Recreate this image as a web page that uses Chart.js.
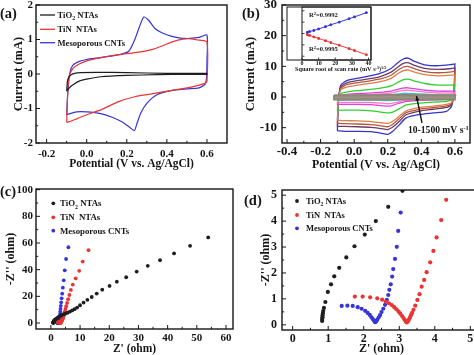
<!DOCTYPE html>
<html><head><meta charset="utf-8">
<script src="https://cdn.jsdelivr.net/npm/chart.js@4.4.1/dist/chart.umd.min.js"></script>
<style>
html,body{margin:0;padding:0;background:#fff;}
#wrap{position:relative;width:474px;height:355px;overflow:hidden;background:#fff;}
canvas{position:absolute;}
</style></head><body><div id="wrap">
<canvas id="ca"></canvas><canvas id="cb"></canvas><canvas id="cbi"></canvas><canvas id="cc"></canvas><canvas id="cd"></canvas>
</div>
<script>
// ================= DATA =================
// (a) cyclic voltammograms: potential (V) / current (mA), loop order
const aTiO2V = [-0.100,-0.095,-0.080,-0.060,-0.030,0.050,0.200,0.400,0.600,0.600,0.500,0.350,0.200,0.070,0.000,-0.035,-0.070,-0.090,-0.100];
const aTiO2I = [-0.50,-0.17,-0.03,0.02,0.04,0.05,0.04,0.02,0.02,-0.01,-0.01,-0.02,-0.04,-0.08,-0.15,-0.20,-0.32,-0.42,-0.50];
const aTiNV = [-0.100,-0.090,-0.070,-0.040,0.000,0.080,0.160,0.240,0.320,0.380,0.430,0.480,0.520,0.560,0.600,0.600,0.590,0.520,0.420,0.310,0.240,0.160,0.070,0.000,-0.050,-0.080,-0.100];
const aTiNI = [-1.40,-0.10,0.15,0.28,0.38,0.48,0.56,0.62,0.70,0.82,0.94,1.01,1.02,0.98,0.93,-0.22,-0.27,-0.38,-0.48,-0.59,-0.66,-0.80,-1.04,-1.18,-1.30,-1.37,-1.40];
const aCntV = [-0.100,-0.095,-0.085,-0.070,-0.040,0.000,0.060,0.120,0.170,0.210,0.240,0.260,0.285,0.310,0.340,0.380,0.420,0.490,0.560,0.600,0.600,0.598,0.590,0.560,0.500,0.420,0.350,0.300,0.270,0.250,0.238,0.215,0.180,0.130,0.070,0.000,-0.050,-0.100];
const aCntI = [-1.18,-0.60,0.00,0.25,0.36,0.42,0.47,0.52,0.57,0.66,1.00,1.32,1.65,1.55,1.32,1.18,1.10,1.03,1.06,1.13,0.40,-0.10,-0.30,-0.40,-0.43,-0.48,-0.60,-0.85,-1.13,-1.45,-1.64,-1.55,-1.40,-1.26,-1.15,-1.10,-1.10,-1.18];
const aTicksX = [-0.2,0.0,0.2,0.4,0.6];
const aTicksY = [-2,-1,0,1,2];

// (b) CVs of mesoporous CNTs at 10-1500 mV/s: anodic (up) and cathodic (down) sweeps
const bPotUp = [-0.10,-0.095,-0.08,-0.04,0.05,0.15,0.22,0.26,0.29,0.32,0.36,0.42,0.50,0.58,0.60];
const bPotDn = [0.60,0.595,0.58,0.55,0.47,0.39,0.31,0.27,0.23,0.20,0.16,0.10,0.02,-0.06,-0.10];
const cv1500Up = [-11.0,-2.0,3.8,5.4,6.4,7.6,9.3,11.2,12.3,12.7,11.6,10.5,10.2,10.6,10.8];
const cv1500Dn = [10.8,2.0,-3.0,-4.7,-5.2,-5.7,-6.8,-9.0,-11.2,-12.2,-11.8,-11.3,-11.2,-11.2,-11.0];
const cv1000Up = [-9.6,-1.8,3.2,4.7,5.6,6.6,8.1,9.8,10.9,11.2,10.3,9.3,9.0,9.3,9.5];
const cv1000Dn = [9.5,1.6,-2.4,-3.4,-4.0,-4.6,-5.8,-7.9,-9.8,-10.6,-10.3,-9.9,-9.7,-9.6,-9.6];
const cv800Up = [-8.6,-1.6,2.8,4.1,4.9,5.8,7.1,8.7,9.7,10.0,9.2,8.3,7.9,8.2,8.4];
const cv800Dn = [8.4,1.3,-2.1,-2.9,-3.5,-4.0,-5.1,-7.0,-8.9,-9.7,-9.4,-9.0,-8.8,-8.7,-8.6];
const cv500Up = [-7.6,-1.4,2.3,3.3,4.1,4.9,6.1,7.6,8.5,8.8,8.1,7.3,6.9,7.1,7.3];
const cv500Dn = [7.3,1.0,-1.8,-2.4,-3.0,-3.5,-4.5,-6.2,-7.9,-8.6,-8.4,-8.0,-7.8,-7.7,-7.6];
const cv300Up = [-4.4,-0.8,1.1,1.7,2.2,2.8,3.6,4.8,5.6,5.8,5.2,4.4,3.9,3.9,4.0];
const cv300Dn = [4.0,0.5,-1.0,-1.4,-1.7,-2.0,-2.6,-3.8,-4.9,-5.2,-4.9,-4.5,-4.3,-4.3,-4.4];
const cv100Up = [-2.4,-0.4,0.6,0.9,1.2,1.5,1.9,2.5,2.9,3.0,2.7,2.2,1.9,1.9,2.0];
const cv100Dn = [2.0,0.3,-0.6,-0.8,-0.9,-1.1,-1.4,-2.0,-2.7,-3.0,-2.8,-2.5,-2.4,-2.4,-2.4];
const cv50Up = [-1.8,-0.3,0.4,0.6,0.8,1.0,1.3,1.8,2.1,2.2,2.0,1.6,1.3,1.3,1.4];
const cv50Dn = [1.4,0.2,-0.4,-0.6,-0.7,-0.8,-1.0,-1.5,-2.0,-2.2,-2.0,-1.8,-1.8,-1.8,-1.8];
const cv20Up = [-1.1,-0.2,0.2,0.3,0.4,0.5,0.7,1.0,1.2,1.2,1.1,0.9,0.7,0.7,0.8];
const cv20Dn = [0.8,0.1,-0.2,-0.3,-0.4,-0.5,-0.6,-0.9,-1.1,-1.2,-1.1,-1.0,-1.0,-1.0,-1.1];
const cv10Up = [-0.7,-0.1,0.1,0.2,0.25,0.3,0.4,0.55,0.65,0.65,0.6,0.5,0.4,0.4,0.5];
const cv10Dn = [0.5,0.05,-0.1,-0.2,-0.25,-0.3,-0.4,-0.55,-0.7,-0.75,-0.7,-0.65,-0.65,-0.65,-0.7];
const cv5Up = [-0.4,-0.05,0.05,0.1,0.12,0.15,0.2,0.3,0.35,0.35,0.3,0.25,0.2,0.2,0.25];
const cv5Dn = [0.25,0.0,-0.05,-0.1,-0.12,-0.15,-0.2,-0.3,-0.38,-0.4,-0.38,-0.35,-0.35,-0.35,-0.4];
const bandV = [-0.12,0.0,0.2,0.4,0.6,0.6,0.4,0.2,0.0,-0.12,-0.12];
const bandI = [0.55,0.6,0.65,0.6,0.55,-0.8,-0.8,-0.85,-0.8,-0.8,0.55];
const bTicksX = [-0.4,-0.2,0.0,0.2,0.4,0.6];
const bTicksY = [-10,0,10,20,30];
// (b) inset: peak current vs sqrt(scan rate)
const insetX = [3.2,4.5,7.1,10.0,14.1,17.3,22.4,28.3,31.6,38.7];
const insetAnodic = [0.3,0.5,0.8,1.2,1.8,2.3,3.0,3.9,4.4,5.5];
const insetCathodic = [-0.3,-0.5,-0.9,-1.3,-1.9,-2.4,-3.1,-4.0,-4.5,-5.6];
const insetTicksX = [0,10,20,30,40];
const insetTicksY = [-6,-3,0,3,6];

// (c)/(d) Nyquist plots: Z' and -Z'' (ohm)
const tio2Re = [0.83,0.83,0.84,0.84,0.85,0.86,0.88,0.92,0.99,1.08,1.17,1.31,1.51,1.74,2.03,2.34,2.69,3.09,3.6,4.2,4.9,5.7,6.5,7.3,8.1,9.0,10.0,11.2,12.5,14.0,15.7,17.6,20.1,22.6,25.8,29.4,33.2,37.4,42.2,47.7,53.9];
const tio2Im = [0.15,0.22,0.29,0.36,0.44,0.53,0.65,0.88,1.27,1.56,1.87,2.20,2.60,3.03,3.48,4.00,4.55,5.17,5.8,6.4,7.0,7.7,8.5,9.4,10.4,11.6,13.3,15.3,17.4,19.5,22.1,25.0,27.8,31.0,34.3,38.6,42.9,47.1,52.2,57.9,64.2];
const tinRe = [1.75,1.97,2.18,2.38,2.52,2.62,2.71,2.79,2.86,2.92,2.98,3.03,3.08,3.12,3.16,3.19,3.21,3.24,3.27,3.30,3.33,3.36,3.40,3.45,3.51,3.57,3.63,3.70,3.77,3.87,3.96,4.05,4.18,4.32,4.45,4.6,4.8,5.0,5.25,5.55,5.9,6.35,6.85,7.5,8.5,9.7,10.9,12.9];
const tinIm = [1.09,1.09,1.06,1.02,0.97,0.90,0.83,0.76,0.68,0.60,0.51,0.43,0.34,0.26,0.18,0.12,0.09,0.13,0.20,0.28,0.37,0.46,0.58,0.74,0.96,1.18,1.47,1.73,2.03,2.41,2.85,3.37,4.04,4.82,5.9,7.2,8.7,10.5,12.6,15.0,17.8,21.0,24.8,28.8,33.5,39.1,46.1,54.6];
const cntRe = [1.38,1.54,1.69,1.83,1.94,2.04,2.11,2.17,2.22,2.26,2.30,2.32,2.35,2.38,2.42,2.46,2.50,2.55,2.60,2.65,2.69,2.72,2.76,2.80,2.83,2.88,2.93,2.97,3.04,3.10,3.16,3.22,3.30,3.40,3.52,3.68,3.88,4.10,4.40,4.75,5.20,6.00];
const cntIm = [0.73,0.74,0.73,0.68,0.62,0.54,0.46,0.38,0.29,0.21,0.14,0.10,0.13,0.20,0.28,0.37,0.49,0.62,0.77,0.96,1.15,1.35,1.56,1.86,2.15,2.54,3.01,3.62,4.33,5.4,6.9,8.6,10.6,12.9,15.5,18.5,22.0,26.5,32.0,39.5,48.0,56.8];
const cTicksX = [0,10,20,30,40,50,60];
const cTicksY = [0,20,40,60,80,100];
const dTicksX = [0,1,2,3,4,5];
const dTicksY = [0,1,2,3,4,5];

// ================= RENDERING =================
const FONT = "'Liberation Serif','Times New Roman',serif";
const INK = '#161616';
const BLUE = '#3636d8', RED = '#ea3434', BLACK = '#1e1e1e';
const pts = (xs, ys) => xs.map((v, i) => ({x: v, y: ys[i]}));
const cvLoop = (up, dn) => pts(bPotUp.concat(bPotDn), up.concat(dn));

function rich(ctx, x, cy, parts, size, align, color) {
  ctx.save();
  ctx.fillStyle = color || INK; ctx.textBaseline = 'alphabetic';
  const f = s => 'bold ' + s + 'px ' + FONT;
  let w = 0;
  const items = parts.map(p => {
    const t = typeof p === 'string' ? p : p[0];
    const m = typeof p === 'string' ? '' : p[1];
    const s = m ? size * 0.68 : size;
    ctx.font = f(s);
    const tw = ctx.measureText(t).width; w += tw;
    return {t, m, s, tw};
  });
  let px = align === 'center' ? x - w / 2 : align === 'right' ? x - w : x;
  const base = cy + size * 0.33;
  items.forEach(it => {
    ctx.font = f(it.s);
    const dy = it.m === 'sub' ? size * 0.28 : it.m === 'sup' ? -size * 0.38 : 0;
    ctx.fillText(it.t, px, base + dy);
    px += it.tw;
  });
  ctx.restore();
}

function decoPlugin(P) {
  return {
    id: 'deco' + P.id,
    beforeDatasetsDraw(chart) { if (P.before) P.before(chart.ctx, chart); },
    afterDatasetsDraw(chart) {
      const ctx = chart.ctx, a = chart.chartArea, sx = chart.scales.x, sy = chart.scales.y;
      ctx.save();
      ctx.strokeStyle = INK; ctx.lineWidth = P.frameW || 1.4;
      ctx.strokeRect(a.left, a.top, a.right - a.left, a.bottom - a.top);
      ctx.lineWidth = P.tickW || 1;
      const tl = P.tickLen || 4, ml = tl * 0.55;
      ctx.beginPath();
      P.xTicks.forEach(v => { const p = sx.getPixelForValue(v); ctx.moveTo(p, a.bottom); ctx.lineTo(p, a.bottom - tl); });
      (P.xMinor || []).forEach(v => { const p = sx.getPixelForValue(v); ctx.moveTo(p, a.bottom); ctx.lineTo(p, a.bottom - ml); });
      P.yTicks.forEach(v => { const p = sy.getPixelForValue(v); ctx.moveTo(a.left, p); ctx.lineTo(a.left + tl, p); });
      (P.yMinor || []).forEach(v => { const p = sy.getPixelForValue(v); ctx.moveTo(a.left, p); ctx.lineTo(a.left + ml, p); });
      ctx.stroke();
      ctx.restore();
      if (P.after) P.after(ctx, chart, (x) => x - P.cx, (y) => y - P.cy);
    }
  };
}

function makeChart(P, datasets) {
  const cv = document.getElementById(P.id);
  cv.width = P.cw; cv.height = P.ch;
  cv.style.left = P.cx + 'px'; cv.style.top = P.cy + 'px';
  const tlh = P.tickSize * 1.2, ttl = P.titleSize * 1.2;
  const tf = {family: FONT, size: P.tickSize, weight: 'bold'};
  const hf = {family: FONT, size: P.titleSize, weight: 'bold'};
  return new Chart(cv, {
    type: 'scatter',
    data: {datasets},
    plugins: [decoPlugin(P)],
    options: {
      responsive: false, animation: false, devicePixelRatio: 1,
      layout: {padding: {left: 0, top: P.t - P.cy, right: P.cx + P.cw - P.r, bottom: 0}},
      plugins: {legend: {display: false}, tooltip: {enabled: false}},
      scales: {
        x: {
          type: 'linear', position: 'bottom', min: P.xMin, max: P.xMax,
          afterBuildTicks: s => { s.ticks = P.xTicks.map(v => ({value: v})); },
          afterFit: s => { s.height = P.cy + P.ch - P.b; s.paddingLeft = 0; s.paddingRight = 0; },
          grid: {display: false, drawTicks: false}, border: {display: false},
          ticks: {font: tf, color: INK, padding: P.xLabelCY - P.b - tlh / 2, callback: v => P.xFmt(v), maxRotation: 0, autoSkip: false},
          title: {display: !!P.xTitle, text: P.xTitle || '', font: hf, color: INK,
                  padding: {top: 0, bottom: (P.cy + P.ch - P.xTitleCY) - ttl / 2}}
        },
        y: {
          type: 'linear', position: 'left', min: P.yMin, max: P.yMax,
          afterBuildTicks: s => { s.ticks = P.yTicks.map(v => ({value: v})); },
          afterFit: s => { s.width = P.l - P.cx; s.paddingTop = 0; s.paddingBottom = 0; },
          grid: {display: false, drawTicks: false}, border: {display: false},
          ticks: {font: tf, color: INK, padding: P.l - P.yLabelR, callback: v => P.yFmt(v), autoSkip: false},
          title: {display: !!P.yTitle, text: P.yTitle || '', font: {family: FONT, size: P.yTitleSize || P.titleSize, weight: 'bold'}, color: INK,
                  padding: {top: (P.yTitleCX - P.cx) - (P.yTitleSize || P.titleSize) * 0.6, bottom: 0}}
        }
      }
    }
  });
}

const lineDs = (data, color, w) => ({data, showLine: true, borderColor: color, backgroundColor: color, borderWidth: w || 1.3, pointRadius: 0, tension: 0.22, fill: false});
const dotDs = (data, color, r) => ({data, showLine: false, borderColor: color, backgroundColor: color, pointRadius: r, pointBorderWidth: 0, pointHoverRadius: r});
const f1 = v => v.toFixed(1);
const f0 = v => String(Math.round(v));

// ---------- (a) ----------
makeChart({
  id: 'ca', cx: 0, cy: 0, cw: 237, ch: 175, l: 36, t: 5, r: 227, b: 143,
  xMin: -0.253, xMax: 0.70, yMin: -2, yMax: 2, xTicks: aTicksX, yTicks: aTicksY,
  xMinor: [-0.1, 0.1, 0.3, 0.5], yMinor: [-1.5, -0.5, 0.5, 1.5],
  xFmt: f1, yFmt: f0, tickSize: 11, titleSize: 11.5, yTitleSize: 12.5,
  xTitle: 'Potential (V vs. Ag/AgCl)', yTitle: 'Current (mA)',
  xLabelCY: 154, xTitleCY: 164.5, yLabelR: 33, yTitleCX: 19,
  after(ctx, chart, X, Y) {
    rich(ctx, X(0), Y(13), ['(a)'], 14.5, 'left');
    const items = [[BLACK, [['TiO'], ['2', 'sub'], [' NTAs']], 15], [RED, ['TiN  NTAs'], 29.3], [BLUE, ['Mesoporous CNTs'], 42.7]];
    items.forEach(([c, parts, y]) => {
      ctx.save(); ctx.strokeStyle = c; ctx.lineWidth = 1.3;
      ctx.beginPath(); ctx.moveTo(X(40), Y(y)); ctx.lineTo(X(55), Y(y)); ctx.stroke(); ctx.restore();
      rich(ctx, X(57.5), Y(y), parts.map(p => p.length > 1 ? p : p[0]), 8.6, 'left');
    });
  }
}, [
  lineDs(pts(aTiO2V, aTiO2I), BLACK, 1.2),
  lineDs(pts(aTiNV, aTiNI), RED, 1.2),
  lineDs(pts(aCntV, aCntI), BLUE, 1.2)
]);

// ---------- (b) ----------
const bColors = ['#3434c8', '#6e3c64', '#b4583c', '#dc7e4a', '#30d030', '#e040e0', '#ff7ac6', '#3cc4d0', '#a02828', '#262626'];
makeChart({
  id: 'cb', cx: 237, cy: 0, cw: 237, ch: 175, l: 282, t: 5, r: 470, b: 143,
  xMin: -0.43, xMax: 0.69, yMin: -15, yMax: 30, xTicks: bTicksX, yTicks: bTicksY,
  xMinor: [-0.3, -0.1, 0.1, 0.3, 0.5], yMinor: [-5, 5, 15, 25],
  xFmt: f1, yFmt: f0, tickSize: 13, titleSize: 11.8, yTitleSize: 12.5,
  xTitle: 'Potential (V vs. Ag/AgCl)', yTitle: 'Current (mA)',
  xLabelCY: 152, xTitleCY: 165, yLabelR: 277, yTitleCX: 251,
  after(ctx, chart, X, Y) {
    rich(ctx, X(242), Y(13), ['(b)'], 14.5, 'left');
    // arrow
    ctx.save(); ctx.strokeStyle = INK; ctx.fillStyle = INK; ctx.lineWidth = 1.4;
    const x0 = X(422), y0 = Y(123), x1 = X(416.5), y1 = Y(96);
    ctx.beginPath(); ctx.moveTo(x0, y0); ctx.lineTo(x1, y1); ctx.stroke();
    const ang = Math.atan2(y1 - y0, x1 - x0);
    ctx.beginPath(); ctx.moveTo(x1, y1);
    ctx.lineTo(x1 - 5 * Math.cos(ang - 0.4), y1 - 5 * Math.sin(ang - 0.4));
    ctx.lineTo(x1 - 5 * Math.cos(ang + 0.4), y1 - 5 * Math.sin(ang + 0.4));
    ctx.closePath(); ctx.fill(); ctx.restore();
    rich(ctx, X(408), Y(130), ['10-1500 mV s', ['-1', 'sup']], 9.6, 'left');
  }
}, [
  {data: pts(bandV, bandI), showLine: true, borderColor: '#8e8676', backgroundColor: '#9a9282', borderWidth: 2, pointRadius: 0, tension: 0, fill: 'shape'},
  lineDs(cvLoop(cv5Up, cv5Dn), bColors[9]),
  lineDs(cvLoop(cv10Up, cv10Dn), bColors[8]),
  lineDs(cvLoop(cv20Up, cv20Dn), bColors[7]),
  lineDs(cvLoop(cv50Up, cv50Dn), bColors[6]),
  lineDs(cvLoop(cv100Up, cv100Dn), bColors[5]),
  lineDs(cvLoop(cv300Up, cv300Dn), bColors[4]),
  lineDs(cvLoop(cv500Up, cv500Dn), bColors[3]),
  lineDs(cvLoop(cv800Up, cv800Dn), bColors[2]),
  lineDs(cvLoop(cv1000Up, cv1000Dn), bColors[1]),
  lineDs(cvLoop(cv1500Up, cv1500Dn), bColors[0])
]);

// ---------- (b) inset ----------
makeChart({
  id: 'cbi', cx: 270, cy: 0, cw: 120, ch: 75, l: 302, t: 7, r: 371, b: 60,
  xMin: 0, xMax: 41.5, yMin: -7, yMax: 7, xTicks: insetTicksX, yTicks: insetTicksY,
  xFmt: f0, yFmt: f0, tickSize: 6, titleSize: 6, tickLen: 2.5, frameW: 1, tickW: 0.8,
  xTitle: '', yTitle: 'Current (mA)',
  xLabelCY: 63.5, xTitleCY: 69, yLabelR: 300.5, yTitleCX: 293.5,
  before(ctx, chart) {
    ctx.save(); ctx.fillStyle = '#fff'; ctx.strokeStyle = INK; ctx.lineWidth = 1;
    ctx.fillRect(287 - 270, 7, 371 - 287, 53);
    ctx.strokeRect(287 - 270, 7, 371 - 287, 53);
    ctx.restore();
  },
  after(ctx, chart, X, Y) {
    rich(ctx, X(309), Y(15), ['R', ['2', 'sup'], '=0.9992'], 6.6, 'left');
    rich(ctx, X(309), Y(49), ['R', ['2', 'sup'], '=0.9995'], 6.6, 'left');
    rich(ctx, X(295), Y(69), ['Square root of scan rate (mV s', ['-1', 'sup'], ')', ['1/2', 'sup']], 6.2, 'left');
  }
}, [
  {data: pts(insetX, insetAnodic), showLine: true, borderColor: '#3a3ae0', backgroundColor: '#2020a0', borderWidth: 1, pointRadius: 1.2, pointStyle: 'rect', tension: 0},
  {data: pts(insetX, insetCathodic), showLine: true, borderColor: '#ee3a3a', backgroundColor: '#b02020', borderWidth: 1, pointRadius: 1.2, pointStyle: 'rect', tension: 0}
]);

// ---------- (c) ----------
const legendDots = (ctx, X, Y, dotX, textX, ys, size) => {
  const items = [[BLACK, [['TiO'], ['2', 'sub'], [' NTAs']]], [RED, ['TiN  NTAs']], [BLUE, ['Mesoporous CNTs']]];
  items.forEach(([c, parts], i) => {
    ctx.save(); ctx.fillStyle = c; ctx.beginPath(); ctx.arc(X(dotX), Y(ys[i]), 1.9, 0, Math.PI * 2); ctx.fill(); ctx.restore();
    rich(ctx, X(textX), Y(ys[i]), parts.map(p => p.length > 1 ? p : p[0]), size, 'left');
  });
};
makeChart({
  id: 'cc', cx: 0, cy: 175, cw: 237, ch: 190, l: 36, t: 189, r: 233, b: 329,
  xMin: -5.1, xMax: 62.4, yMin: -4.5, yMax: 100.5, xTicks: cTicksX, yTicks: cTicksY,
  xMinor: [5, 15, 25, 35, 45, 55], yMinor: [10, 30, 50, 70, 90],
  xFmt: f0, yFmt: f0, tickSize: 11, titleSize: 11.5, yTitleSize: 12,
  xTitle: "Z' (ohm)", yTitle: "-Z'' (ohm)",
  xLabelCY: 338, xTitleCY: 349, yLabelR: 33, yTitleCX: 11,
  after(ctx, chart, X, Y) {
    rich(ctx, X(0), Y(191), ['(c)'], 14.5, 'left');
    legendDots(ctx, X, Y, 53.3, 60, [203.3, 217.3, 230.7], 8.8);
  }
}, [
  dotDs(pts(tio2Re, tio2Im), BLACK, 1.9),
  dotDs(pts(tinRe, tinIm), RED, 1.9),
  dotDs(pts(cntRe, cntIm), BLUE, 1.9)
]);

// ---------- (d) ----------
makeChart({
  id: 'cd', cx: 237, cy: 175, cw: 250, ch: 190, l: 282, t: 190, r: 481, b: 330,
  xMin: -0.3, xMax: 5.3, yMin: -0.2, yMax: 5.2, xTicks: dTicksX, yTicks: dTicksY,
  xMinor: [0.5, 1.5, 2.5, 3.5, 4.5], yMinor: [0.5, 1.5, 2.5, 3.5, 4.5],
  xFmt: f0, yFmt: f0, tickSize: 12, titleSize: 12, yTitleSize: 12,
  xTitle: "Z' (ohm)", yTitle: "-Z'' (ohm)",
  xLabelCY: 339, xTitleCY: 349, yLabelR: 277, yTitleCX: 266,
  after(ctx, chart, X, Y) {
    rich(ctx, X(244), Y(200), ['(d)'], 14.5, 'left');
    legendDots(ctx, X, Y, 297, 306, [201, 215, 228.3], 8.5);
  }
}, [
  dotDs(pts(tio2Re, tio2Im), BLACK, 2.1),
  dotDs(pts(tinRe, tinIm), RED, 2.1),
  dotDs(pts(cntRe, cntIm), BLUE, 2.1)
]);
</script></body></html>
